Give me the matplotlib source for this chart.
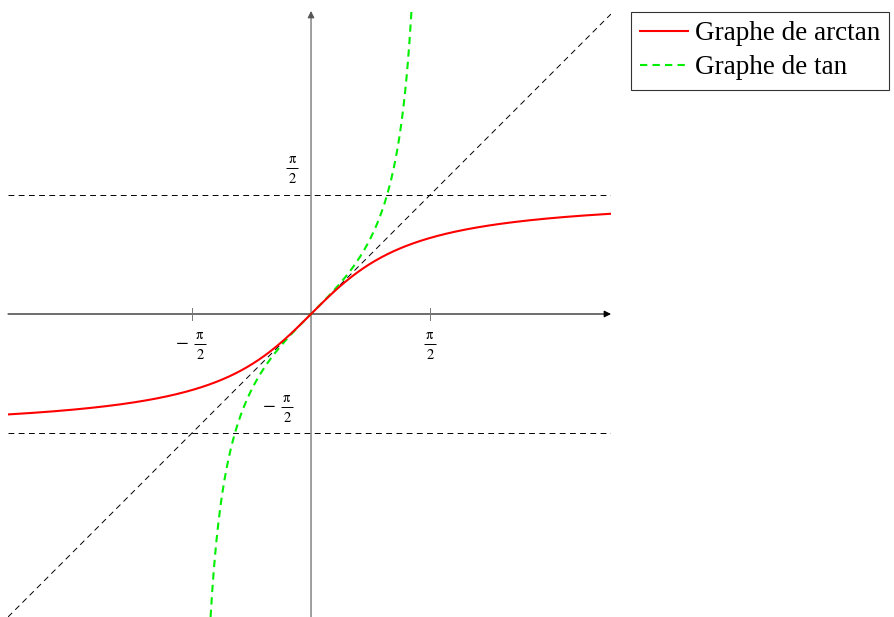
import numpy as np
import matplotlib
matplotlib.use("Agg")
import matplotlib.pyplot as plt
from matplotlib.transforms import offset_copy

plt.rcParams["mathtext.fontset"] = "stix"
plt.rcParams["font.family"] = ["Liberation Serif", "DejaVu Serif"]

# plotting window
x_min, x_max = -4.0, 3.96
y_min, y_max = -4.0, 4.0

# tick positions and labels (label = sign, numerator, denominator)
x_ticks = [-np.pi / 2, np.pi / 2]
x_tick_labels = [("−", "π", "2"), ("", "π", "2")]
y_ticks = [np.pi / 2, -np.pi / 2]
y_tick_labels = [("", "π", "2"), ("−", "π", "2")]

series_names = ["Graphe de arctan", "Graphe de tan"]

x_arctan = np.linspace(x_min, x_max, 400)
y_arctan = np.arctan(x_arctan)
x_tan = np.linspace(-np.arctan(y_max), np.arctan(y_max), 400)
y_tan = np.tan(x_tan)

fig = plt.figure(figsize=(8.95, 6.17), dpi=100)
ax = fig.add_axes([8 / 895, 0, 603 / 895, 606 / 617])
ax.set_xlim(x_min, x_max)
ax.set_ylim(y_min, y_max)
ax.axis("off")


def frac_bar(ax, x, y, half=4.3):
    t1 = offset_copy(ax.transData, fig=fig, x=-half, y=0, units="points")
    t2 = offset_copy(ax.transData, fig=fig, x=half, y=0, units="points")
    inv = ax.transData.inverted()
    (xa, ya) = inv.transform(t1.transform((x, y)))
    (xb, yb) = inv.transform(t2.transform((x, y)))
    ax.plot([xa, xb], [ya, yb], color="black", lw=0.7, solid_capstyle="butt")


def fraction_label(ax, x, y, label, size=10.5):
    """Sign, then numerator over a bar over denominator; bar centred at (x, y)."""
    sign, num, den = label
    kw = dict(xycoords="data", textcoords="offset points", ha="center",
              va="center", fontsize=size, family="STIXGeneral")
    ax.annotate(num, (x, y), xytext=(0, 6.0), **kw)
    ax.annotate(den, (x, y), xytext=(0, -8.4), **kw)
    frac_bar(ax, x, y)
    if sign:
        kw["fontsize"] = size + 3
        ax.annotate(sign, (x, y), xytext=(-12.5, 0.4), **kw)


# asymptotes and the bisector
for yv in (np.pi / 2, -np.pi / 2):
    ax.plot([x_min, x_max], [yv, yv], color="black", lw=0.7, dashes=(6, 4.5), zorder=2)
ax.plot([x_min, x_max], [x_min, x_max], color="black", lw=0.7, dashes=(6, 4.5), zorder=2)

# axes with arrows
ax.annotate("", xy=(x_max, 0), xytext=(x_min, 0),
            arrowprops=dict(arrowstyle="-|>", color="black", lw=0.8,
                            mutation_scale=10, shrinkA=0, shrinkB=0), zorder=3)
ax.annotate("", xy=(0, y_max), xytext=(0, y_min),
            arrowprops=dict(arrowstyle="-|>", color="#555555", lw=0.8,
                            mutation_scale=10, shrinkA=0, shrinkB=0), zorder=3)

# x ticks and their labels
for xv, lab in zip(x_ticks, x_tick_labels):
    ax.plot([xv, xv], [-0.08, 0.08], color="#777777", lw=0.7, zorder=3)
    dx = 0.105 if lab[0] else 0.0
    fraction_label(ax, xv + dx, -0.396, lab)

# y labels
fraction_label(ax, -0.25, 1.927, y_tick_labels[0])
fraction_label(ax, -0.317, -1.228, y_tick_labels[1])

l1, = ax.plot(x_arctan, y_arctan, color="#ff0000", lw=1.5, zorder=5, label=series_names[0])
l2, = ax.plot(x_tan, y_tan, color="#00ee00", lw=1.5, dashes=(3.5, 2.5), zorder=4,
              label=series_names[1])

leg = fig.legend(handles=[l1, l2], loc="upper left",
                 bbox_to_anchor=(631 / 895, 1 - 12 / 617),
                 fontsize=19.5, frameon=True, fancybox=False, edgecolor="black",
                 handlelength=1.75, handletextpad=0.25, borderpad=0.35,
                 labelspacing=0.33, borderaxespad=0)
leg.get_frame().set_linewidth(0.8)

fig.savefig("out.png", dpi=100)
